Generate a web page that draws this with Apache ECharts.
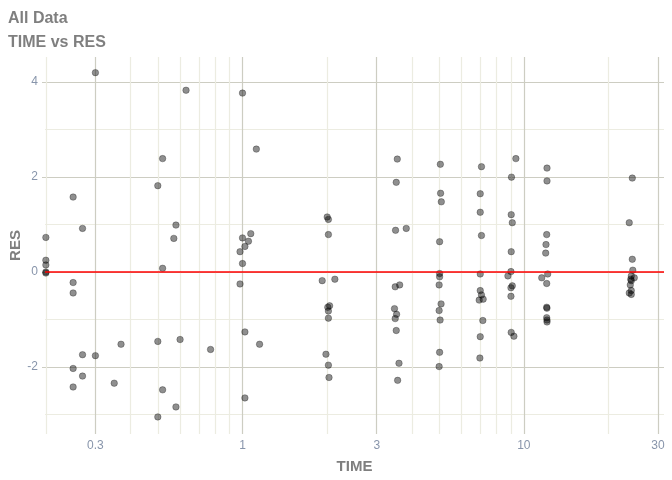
<!DOCTYPE html>
<html>
<head>
<meta charset="utf-8">
<script src="https://cdn.jsdelivr.net/npm/echarts@6/dist/echarts.min.js"></script>
<style>
  html, body { margin: 0; padding: 0; background: #fff; }
  #chart-container { width: 672px; height: 480px; }
</style>
</head>
<body>
<div id="chart-container"></div>
<script>
// TIME = 0 rows sit on the left edge of the log axis, so they use the axis minimum
var timeValues = [
  0.2, 0.2, 0.2, 0.2, 0.2,
  0.3, 0.25, 0.27, 0.25, 0.25, 0.27, 0.30, 0.37, 0.25, 0.27, 0.25, 0.35,
  0.63, 0.52, 0.50, 0.58, 0.57, 0.52, 0.50, 0.60, 0.77, 0.52, 0.58, 0.50,
  1.0, 1.12, 0.98, 1.0, 1.02, 1.05, 1.07, 1.0, 0.98, 1.02, 1.15, 1.02,
  2.0, 2.02, 2.02, 1.92, 2.13, 2.04, 2.01, 2.02, 2.02, 1.98, 2.02, 2.03,
  3.55, 3.52, 3.50, 3.82, 3.49, 3.62, 3.47, 3.53, 3.49, 3.52, 3.60, 3.56,
  5.05, 5.06, 5.09, 5.02, 5.02, 5.02, 5.0, 5.08, 5.0, 5.04, 5.02, 5.0,
  7.07, 7.0, 7.0, 7.07, 7.0, 7.0, 7.07, 6.94, 7.17, 7.15, 7.0, 6.98,
  9.37, 9.04, 9.02, 9.1, 9.02, 9.0, 8.78, 9.1, 9.0, 9.0, 9.02, 9.22,
  12.09, 12.09, 12.06, 11.99, 11.96, 11.58, 12.16, 12.06, 12.06, 12.08, 12.06, 12.09, 12.09,
  24.3, 23.7, 24.3, 24.4, 24.1, 24.7, 24.0, 24.1, 23.9, 24.1, 23.7, 24.1
];
var resValues = [
  0.73, 0.25, 0.15, 0.0, -0.02,
  4.20, 1.58, 0.92, -0.22, -0.44, -1.74, -1.76, -1.52, -2.03, -2.19, -2.42, -2.34,
  3.83, 2.39, 1.82, 0.99, 0.71, 0.08, -1.46, -1.42, -1.63, -2.48, -2.84, -3.05,
  3.77, 2.59, 0.43, 0.72, 0.54, 0.65, 0.81, 0.18, -0.25, -1.26, -1.52, -2.65,
  1.16, 1.11, 0.79, -0.18, -0.15, -0.71, -0.74, -0.82, -0.97, -1.73, -1.96, -2.22,
  2.38, 1.89, 0.88, 0.92, -0.31, -0.27, -0.77, -0.89, -0.98, -1.23, -1.92, -2.28,
  2.27, 1.66, 1.48, 0.64, -0.03, -0.10, -0.27, -0.67, -0.81, -1.01, -1.69, -1.99,
  2.22, 1.65, 1.26, 0.77, -0.04, -0.39, -0.48, -0.59, -0.57, -1.02, -1.36, -1.81,
  2.39, 2.00, 1.21, 1.04, 0.43, 0.01, -0.08, -0.29, -0.33, -0.51, -1.27, -1.35,
  2.19, 1.92, 0.79, 0.58, 0.40, -0.12, -0.04, -0.24, -0.74, -0.76, -0.96, -1.01, -1.05,
  1.98, 1.04, 0.27, 0.04, -0.08, -0.12, -0.15, -0.18, -0.27, -0.39, -0.44, -0.47
];
var xMajorTicks = [0.3, 1, 3, 10, 30];
var xMinorTicks = [0.2, 0.4, 0.5, 0.6, 0.7, 0.8, 0.9, 2, 4, 5, 6, 7, 8, 9, 20];
var yMajorTicks = [-2, 0, 2, 4];
var yMinorTicks = [-3, -1, 1, 3];

var points = timeValues.map(function (t, i) { return [t, resValues[i]]; });

var font = "'Liberation Sans', Arial, sans-serif";
var majorColor = "#cdcdc2";
var minorColor = "#ecece1";
var labelColor = "#8895ab";
var titleColor = "#7f7f7f";

var xRange = { min: 0.1986, max: 31.5 };
var yRange = { min: -3.41, max: 4.53 };

var dom = document.getElementById("chart-container");
var myChart = echarts.init(dom, null, { renderer: "canvas" });

var option = {
  animation: false,
  backgroundColor: "#ffffff",
  title: {
    text: "All Data\nTIME vs RES",
    left: 8,
    top: 7,
    padding: 0,
    textStyle: {
      fontFamily: font,
      fontSize: 16,
      fontWeight: "bold",
      color: titleColor,
      lineHeight: 24,
    },
  },
  // y axis title, placed by hand so it sits close to the tick labels
  graphic: [
    {
      type: "text",
      x: 16,
      y: 245.5,
      rotation: Math.PI / 2,
      style: {
        text: "RES",
        fill: titleColor,
        font: "bold 15px " + font,
        align: "center",
        verticalAlign: "middle",
      },
    },
  ],
  grid: { left: 45, right: 8, top: 57, bottom: 46, containLabel: false, outerBoundsMode: "none" },
  xAxis: [
    {
      type: "log",
      logBase: 10,
      min: xRange.min,
      max: xRange.max,
      name: "TIME",
      nameLocation: "middle",
      nameGap: 25,
      nameTextStyle: { fontFamily: font, fontSize: 15, fontWeight: "bold", color: titleColor },
      axisLine: { show: false },
      axisTick: { show: true, length: 3, customValues: xMajorTicks, lineStyle: { color: majorColor } },
      axisLabel: { customValues: xMajorTicks, margin: 6, fontFamily: font, fontSize: 12, color: labelColor },
      splitLine: { show: true, lineStyle: { color: majorColor, width: 1.2 } },
    },
    {
      type: "log",
      logBase: 10,
      min: xRange.min,
      max: xRange.max,
      position: "bottom",
      axisLine: { show: false },
      axisTick: { show: false, customValues: xMinorTicks },
      axisLabel: { show: false, customValues: xMinorTicks },
      splitLine: { show: true, lineStyle: { color: minorColor, width: 1.2 } },
    },
  ],
  yAxis: [
    {
      type: "value",
      min: yRange.min,
      max: yRange.max,
      axisLine: { show: false },
      axisTick: { show: true, length: 3, customValues: yMajorTicks, lineStyle: { color: majorColor } },
      axisLabel: { customValues: yMajorTicks, margin: 7, fontFamily: font, fontSize: 12, color: labelColor },
      splitLine: { show: true, lineStyle: { color: majorColor, width: 1.2 } },
    },
    {
      type: "value",
      min: yRange.min,
      max: yRange.max,
      position: "left",
      axisLine: { show: false },
      axisTick: { show: false, customValues: yMinorTicks },
      axisLabel: { show: false, customValues: yMinorTicks },
      splitLine: { show: true, lineStyle: { color: minorColor, width: 1.2 } },
    },
  ],
  series: [
    {
      type: "scatter",
      xAxisIndex: 0,
      yAxisIndex: 0,
      symbolSize: 6.5,
      itemStyle: {
        color: "rgba(0,0,0,0.55)",
        borderColor: "rgba(0,0,0,0.6)",
        borderWidth: 0.6,
      },
      markLine: {
        silent: true,
        symbol: "none",
        label: { show: false },
        lineStyle: { color: "#ff0000", width: 1.6, type: "solid" },
        data: [{ yAxis: 0 }],
      },
      data: points,
    },
  ],
};

myChart.setOption(option);

window.addEventListener("resize", function () {
  myChart.resize();
});
</script>
</body>
</html>
